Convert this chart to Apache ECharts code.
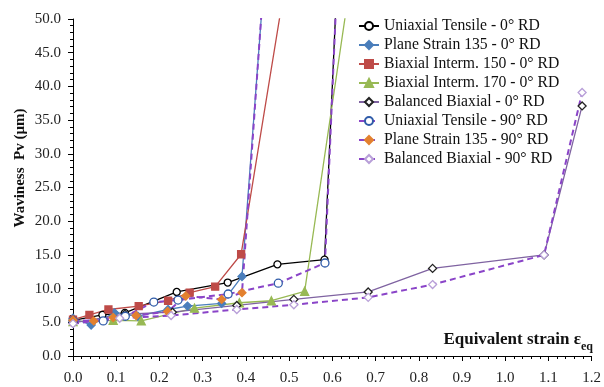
<!DOCTYPE html>
<html>
<head>
<meta charset="utf-8">
<script src="https://cdn.jsdelivr.net/npm/echarts@6/dist/echarts.min.js"></script>
<style>
  html, body { margin: 0; padding: 0; background: #fff; }
  #chart { width: 604px; height: 387px; }
</style>
</head>
<body>
<div id="chart"></div>
<script>
// values (strain, waviness Pv in µm)
const uniaxial0X = [0.0, 0.068, 0.12, 0.24, 0.358, 0.473, 0.582, 0.614];
const uniaxial0Y = [5.3, 6.1, 6.4, 9.5, 10.9, 13.6, 14.3, 60];

const plane0X = [0.0, 0.042, 0.096, 0.15, 0.22, 0.265, 0.344, 0.391, 0.447];
const plane0Y = [5.6, 4.6, 6.4, 5.9, 6.9, 7.4, 7.8, 11.8, 60];

const biax150X = [0.0, 0.038, 0.082, 0.152, 0.22, 0.27, 0.329, 0.389, 0.503];
const biax150Y = [5.4, 6.1, 6.9, 7.4, 8.2, 9.4, 10.3, 15.1, 60];

const biax170X = [0.0, 0.093, 0.158, 0.281, 0.385, 0.459, 0.536, 0.652];
const biax170Y = [5.1, 5.3, 5.2, 7.1, 7.9, 8.2, 9.6, 60];

const balanced0X = [0.0, 0.12, 0.23, 0.379, 0.511, 0.683, 0.832, 1.09, 1.178];
const balanced0Y = [4.9, 6.2, 6.5, 7.5, 8.4, 9.5, 13.0, 15.0, 37.1];

const uniaxial90X = [0.0, 0.07, 0.121, 0.187, 0.243, 0.359, 0.475, 0.583, 0.614];
const uniaxial90Y = [5.2, 5.2, 5.9, 8.0, 8.3, 9.2, 10.8, 13.8, 60];

const plane90X = [0.0, 0.048, 0.093, 0.146, 0.219, 0.261, 0.344, 0.391, 0.446];
const plane90Y = [5.3, 5.2, 5.7, 6.0, 6.6, 8.9, 8.4, 9.4, 60];

const balanced90X = [0.0, 0.108, 0.227, 0.379, 0.511, 0.683, 0.832, 1.09, 1.178];
const balanced90Y = [4.8, 5.6, 6.0, 6.9, 7.6, 8.7, 10.6, 15.0, 39.1];

const seriesNames = [
  'Uniaxial Tensile - 0° RD',
  'Plane Strain 135 - 0° RD',
  'Biaxial Interm. 150 - 0° RD',
  'Biaxial Interm. 170 - 0° RD',
  'Balanced Biaxial - 0° RD',
  'Uniaxial Tensile - 90° RD',
  'Plane Strain 135 - 90° RD',
  'Balanced Biaxial - 90° RD'
];

const FONT = '"Liberation Serif", "Times New Roman", serif';
const dashPurple = '#8a44c8';

function pairs(xs, ys) {
  return xs.map((x, i) => [x, ys[i]]);
}

function makeSeries(name, xs, ys, opts) {
  return {
    name: name,
    type: 'line',
    data: pairs(xs, ys),
    clip: true,
    symbol: opts.symbol,
    symbolSize: opts.size || 7,
    lineStyle: { color: opts.line, width: opts.width || 1.3, type: opts.dash ? [6, 4] : 'solid' },
    itemStyle: { color: opts.fill, borderColor: opts.border, borderWidth: opts.bw || 1.3 },
    emphasis: { disabled: true },
    animation: false
  };
}

const series = [
  makeSeries(seriesNames[0], uniaxial0X, uniaxial0Y,
    { symbol: 'circle', size: 7, line: '#000', fill: '#fff', border: '#000' }),
  makeSeries(seriesNames[1], plane0X, plane0Y,
    { symbol: 'diamond', size: 8, line: '#4a7ebb', fill: '#4a7ebb', border: '#4a7ebb', bw: 0 }),
  makeSeries(seriesNames[2], biax150X, biax150Y,
    { symbol: 'rect', size: 7, line: '#be4b48', fill: '#be4b48', border: '#be4b48', bw: 0 }),
  makeSeries(seriesNames[3], biax170X, biax170Y,
    { symbol: 'triangle', size: 8, line: '#98b954', fill: '#98b954', border: '#98b954', bw: 0 }),
  makeSeries(seriesNames[4], balanced0X, balanced0Y,
    { symbol: 'diamond', size: 8, line: '#7f63a1', fill: '#fff', border: '#222' }),
  makeSeries(seriesNames[5], uniaxial90X, uniaxial90Y,
    { symbol: 'circle', size: 8, line: dashPurple, width: 2, dash: true, fill: '#fff', border: '#2f5ba8' }),
  makeSeries(seriesNames[6], plane90X, plane90Y,
    { symbol: 'diamond', size: 8, line: dashPurple, width: 2, dash: true, fill: '#e3812f', border: '#e3812f', bw: 0 }),
  makeSeries(seriesNames[7], balanced90X, balanced90Y,
    { symbol: 'diamond', size: 8, line: dashPurple, width: 2, dash: true, fill: '#fff', border: '#b89fd8' })
];

const chart = echarts.init(document.getElementById('chart'), null, { renderer: 'canvas' });

chart.setOption({
  backgroundColor: '#fff',
  animation: false,
  textStyle: { fontFamily: FONT },
  grid: { left: 73, right: 10, top: 19, bottom: 31, containLabel: false },
  legend: {
    data: seriesNames,
    orient: 'vertical',
    left: 358,
    top: 18,
    padding: 0,
    itemWidth: 20,
    itemHeight: 10,
    itemGap: 3,
    textStyle: { fontFamily: FONT, fontSize: 15.7, color: '#111' },
    selectedMode: false
  },
  xAxis: {
    type: 'value',
    min: 0,
    max: 1.2,
    interval: 0.1,
    axisLine: { show: true, onZero: false, lineStyle: { color: '#000', width: 1 } },
    axisTick: { show: true, length: 5, lineStyle: { color: '#000' } },
    minorTick: { show: true, splitNumber: 5, length: 3, lineStyle: { color: '#000' } },
    splitLine: { show: false },
    axisLabel: {
      fontFamily: FONT, fontSize: 15, color: '#222', margin: 15,
      formatter: v => v.toFixed(1)
    }
  },
  yAxis: {
    type: 'value',
    min: 0,
    max: 50,
    interval: 5,
    axisLine: { show: true, onZero: false, lineStyle: { color: '#000', width: 1 } },
    axisTick: { show: true, length: 5, lineStyle: { color: '#000' } },
    minorTick: { show: true, splitNumber: 5, length: 3, lineStyle: { color: '#000' } },
    splitLine: { show: false },
    axisLabel: {
      fontFamily: FONT, fontSize: 15, color: '#222', margin: 12,
      formatter: v => v.toFixed(1)
    }
  },
  graphic: [
    {
      type: 'text',
      x: 20,
      y: 168,
      rotation: Math.PI / 2,
      style: {
        text: 'Waviness  Pv (µm)',
        font: 'bold 15px ' + FONT,
        fill: '#111',
        align: 'center',
        verticalAlign: 'middle'
      }
    },
    {
      type: 'text',
      right: 11,
      top: 331,
      style: {
        text: '{a|Equivalent strain ε}{b|eq}',
        rich: {
          a: { font: 'bold 17px ' + FONT, fill: '#111', verticalAlign: 'bottom' },
          b: { font: 'bold 12px ' + FONT, fill: '#111', verticalAlign: 'bottom', padding: [0, 0, -5, 0] }
        }
      }
    }
  ],
  series: series
});
</script>
</body>
</html>
